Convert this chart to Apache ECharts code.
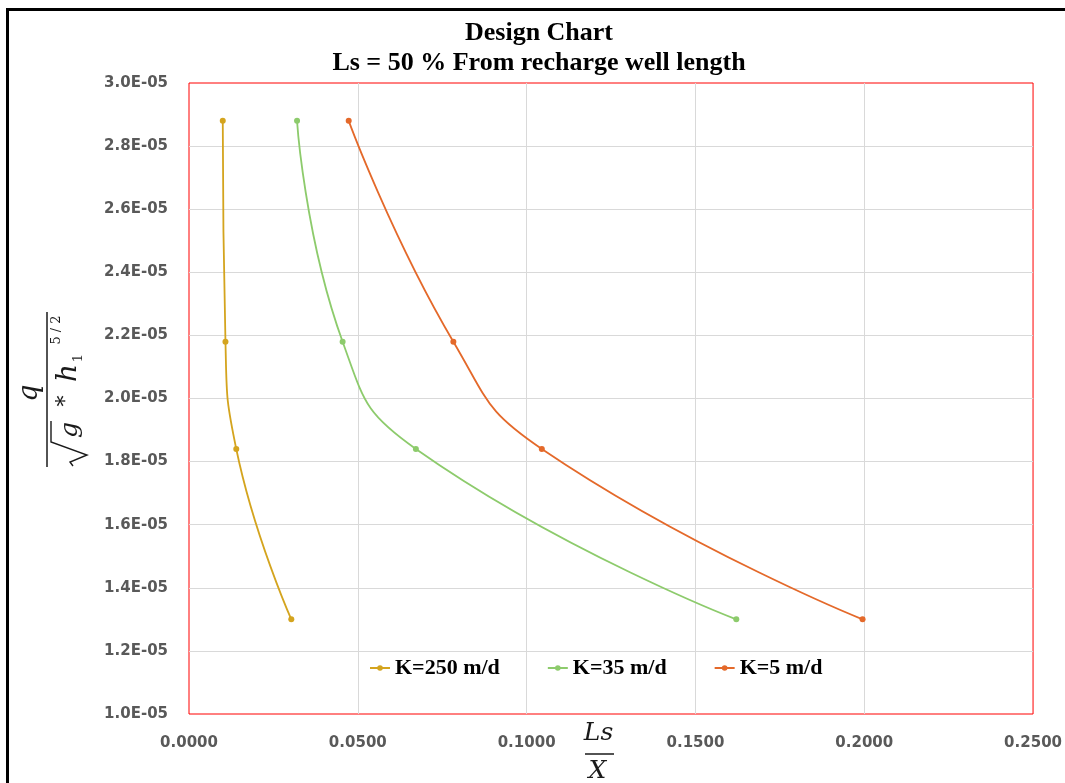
<!DOCTYPE html>
<html>
<head>
<meta charset="utf-8">
<script src="https://cdn.jsdelivr.net/npm/echarts@6/dist/echarts.min.js"></script>
<style>
  html, body { margin: 0; padding: 0; background: #fff; }
  #chart { width: 1065px; height: 783px; }
</style>
</head>
<body>
<div id="chart"></div>
<script>
// Design chart data: Ls/X for each hydraulic conductivity at four discharge levels
const seriesNames = ['K=250 m/d', 'K=35 m/d', 'K=5 m/d'];
const seriesColors = ['#D4A41E', '#8DCB6C', '#E4692A'];
const qValues = [2.88e-5, 2.18e-5, 1.84e-5, 1.30e-5];
const lsxK250 = [0.0100, 0.0108, 0.0140, 0.0303];
const lsxK35 = [0.0320, 0.0455, 0.0672, 0.1621];
const lsxK5 = [0.0473, 0.0783, 0.1045, 0.1995];
const titleLines = ['Design Chart', 'Ls = 50 % From recharge well length'];

const lsxSets = [lsxK250, lsxK35, lsxK5];

function sciLabel(v) {
  const parts = v.toExponential(1).split('e');
  const e = parseInt(parts[1], 10);
  return parts[0] + 'E' + (e < 0 ? '-' : '+') + String(Math.abs(e)).padStart(2, '0');
}

const chart = echarts.init(document.getElementById('chart'), null, { renderer: 'canvas' });

const mathFont = 'italic 25px "DejaVu Serif"';
const ink = '#1a1a1a';

const option = {
  backgroundColor: '#ffffff',
  animation: false,
  title: {
    text: titleLines.join('\n'),
    left: 539,
    top: 18,
    textAlign: 'center',
    padding: 0,
    textStyle: {
      fontFamily: '"Liberation Serif", "Times New Roman", serif',
      fontWeight: 'bold',
      fontSize: 26,
      lineHeight: 30,
      color: '#000'
    }
  },
  legend: {
    left: 369,
    top: 656,
    padding: 0,
    itemWidth: 20,
    itemHeight: 7,
    itemGap: 47,
    data: seriesNames,
    textStyle: {
      fontFamily: '"Liberation Serif", "Times New Roman", serif',
      fontWeight: 'bold',
      fontSize: 22,
      lineHeight: 24,
      color: '#000'
    }
  },
  grid: {
    left: 189,
    right: 31,
    top: 83,
    bottom: 69,
    show: true,
    borderColor: '#FF0000',
    borderWidth: 1,
    backgroundColor: 'transparent'
  },
  xAxis: {
    type: 'value',
    min: 0,
    max: 0.25,
    interval: 0.05,
    axisLine: { show: false },
    axisTick: { show: false },
    splitLine: { show: true, showMinLine: false, showMaxLine: false, lineStyle: { color: '#D9D9D9', width: 1 } },
    axisLabel: {
      margin: 21,
      lineHeight: 16,
      color: '#595959',
      fontFamily: '"DejaVu Sans", sans-serif',
      fontWeight: 'bold',
      fontSize: 15,
      formatter: v => v.toFixed(4)
    }
  },
  yAxis: {
    type: 'value',
    min: 1.0e-5,
    max: 3.0e-5,
    interval: 2e-6,
    axisLine: { show: false },
    axisTick: { show: false },
    splitLine: { show: true, showMinLine: false, showMaxLine: false, lineStyle: { color: '#D9D9D9', width: 1 } },
    axisLabel: {
      margin: 21,
      color: '#595959',
      fontFamily: '"DejaVu Sans", sans-serif',
      fontWeight: 'bold',
      fontSize: 15,
      formatter: sciLabel
    }
  },
  series: seriesNames.map((name, i) => ({
    name: name,
    type: 'line',
    smooth: 0.5,
    symbol: 'circle',
    symbolSize: 6,
    showSymbol: true,
    color: seriesColors[i],
    lineStyle: { color: seriesColors[i], width: 1.8 },
    itemStyle: { color: seriesColors[i] },
    data: lsxSets[i].map((x, j) => [x, qValues[j]])
  })),
  graphic: [
    // outer frame of the chart sheet
    {
      type: 'rect',
      z: 100,
      shape: { x: 7.5, y: 9.5, width: 1120, height: 820 },
      style: { fill: 'none', stroke: '#000', lineWidth: 3 }
    },
    // vertical axis title: q / (sqrt(g) * h1^(5/2)), rotated
    {
      type: 'group',
      x: 47,
      y: 390,
      rotation: Math.PI / 2,
      children: [
        { type: 'line', shape: { x1: -77, y1: 0, x2: 78, y2: 0 }, style: { stroke: ink, lineWidth: 1.5 } },
        { type: 'text', style: { text: 'q', x: -3, y: -17, font: 'italic 27px "DejaVu Serif"', fill: ink, align: 'center', verticalAlign: 'middle' } },
        { type: 'polyline', shape: { points: [[-76, 26], [-72, 23], [-65, 40], [-52, 4], [-31, 4]] }, style: { stroke: ink, lineWidth: 1.4, fill: 'none' } },
        { type: 'text', style: { text: 'g', x: -40, y: 23, font: mathFont, fill: ink, align: 'center', verticalAlign: 'middle' } },
        { type: 'text', style: { text: '*', x: -11, y: 19, font: '22px "DejaVu Serif"', fill: ink, align: 'center', verticalAlign: 'middle' } },
        { type: 'text', style: { text: 'h', x: 17, y: 22, font: 'italic 28px "DejaVu Serif"', fill: ink, align: 'center', verticalAlign: 'middle' } },
        { type: 'text', style: { text: '1', x: 32, y: 32, font: '13px "DejaVu Serif"', fill: ink, align: 'center', verticalAlign: 'middle' } },
        { type: 'text', style: { text: '5 / 2', x: 60, y: 10, font: '13px "DejaVu Serif"', fill: ink, align: 'center', verticalAlign: 'middle' } }
      ]
    },
    // horizontal axis title: Ls / X
    {
      type: 'text',
      style: { text: 'Ls', x: 598.5, y: 733.5, font: mathFont, fill: ink, align: 'center', verticalAlign: 'middle' }
    },
    {
      type: 'line',
      shape: { x1: 585, y1: 754, x2: 614, y2: 754 },
      style: { stroke: ink, lineWidth: 1.5 }
    },
    {
      type: 'text',
      style: { text: 'X', x: 597.5, y: 771.5, font: mathFont, fill: ink, align: 'center', verticalAlign: 'middle' }
    }
  ]
};

chart.setOption(option);
</script>
</body>
</html>
